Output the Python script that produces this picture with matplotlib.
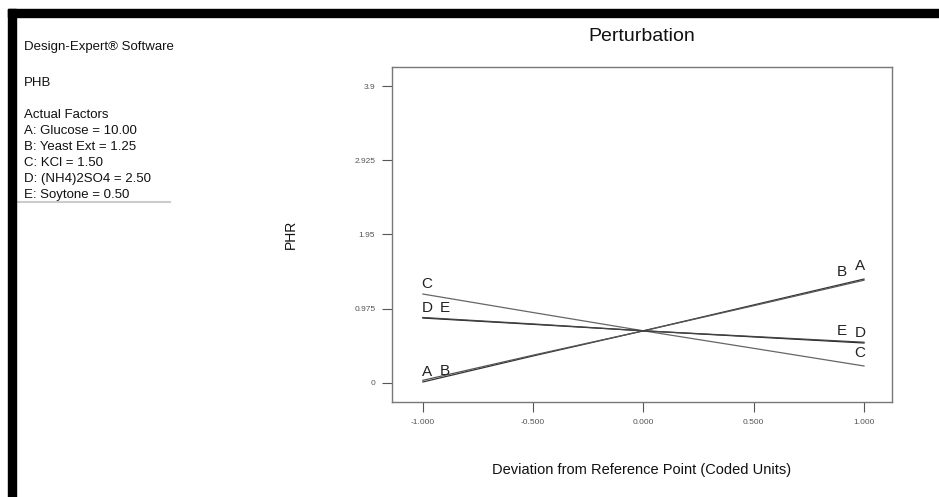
import matplotlib
matplotlib.use("Agg")
import matplotlib.pyplot as plt
from matplotlib.lines import Line2D
from matplotlib.patches import Rectangle

plt.rcParams['font.family'] = ['Liberation Sans', 'DejaVu Sans']

# coded deviation from reference point
deviation = [-1.0, -0.5, 0.0, 0.5, 1.0]

# PHR response for each factor
phr_a = [0.013, 0.355, 0.685, 1.025, 1.365]
phr_b = [0.035, 0.365, 0.685, 1.015, 1.350]
phr_c = [1.168, 0.925, 0.685, 0.455, 0.223]
phr_d = [0.853, 0.770, 0.685, 0.605, 0.525]
phr_e = [0.860, 0.775, 0.685, 0.610, 0.535]

factor_letters = ["A", "B", "C", "D", "E"]
line_colors = ["#333333", "#555555", "#666666", "#222222", "#444444"]

x_ticks = [-1.0, -0.5, 0.0, 0.5, 1.0]
y_ticks = [0, 0.975, 1.95, 2.925, 3.9]
y_tick_labels = ["0", "0.975", "1.95", "2.925", "3.9"]

info_lines = [
    "Design-Expert\u00ae Software",
    "PHB",
    "Actual Factors",
    "A: Glucose = 10.00",
    "B: Yeast Ext = 1.25",
    "C: KCl = 1.50",
    "D: (NH4)2SO4 = 2.50",
    "E: Soytone = 0.50",
]
info_rows = [47, 83, 115, 131, 147, 163, 179, 195]

fig = plt.figure(figsize=(9.39, 4.97), dpi=100)
W, H = 939, 497

# black frame along top and left edge
fig.add_artist(Rectangle((8 / W, 0), 8 / W, 1 - 9 / H, transform=fig.transFigure,
                         color="black", zorder=10))
fig.add_artist(Rectangle((8 / W, 1 - 17 / H), 1, 8 / H, transform=fig.transFigure,
                         color="black", zorder=10))

ax = fig.add_axes([392 / W, 1 - 402 / H, 500 / W, 335 / H])

series = [phr_a, phr_b, phr_c, phr_d, phr_e]
for vals, col in zip(series, line_colors):
    ax.plot(deviation, vals, color=col, lw=0.9)

# factor letters near both ends of each trace
left_shift = {"A": 0, "B": 13, "C": 0, "D": 0, "E": 13}
right_shift = {"A": 0, "B": -13, "C": 0, "D": 0, "E": -13}
right_lift = {"A": 4, "B": 1, "C": 4, "D": 2, "E": 3}
for letter, vals in zip(factor_letters, series):
    ax.annotate(letter, (deviation[0], vals[0]), xytext=(left_shift[letter] + 3, 2),
                textcoords="offset points", fontsize=11, ha="center", va="bottom",
                color="#222222")
    ax.annotate(letter, (deviation[-1], vals[-1]),
                xytext=(right_shift[letter] - 3, right_lift[letter]),
                textcoords="offset points", fontsize=11, ha="center", va="bottom",
                color="#222222")

ax.set_xlim(-1.14, 1.127)
ax.set_ylim(-0.25, 4.15)
ax.set_xticks(x_ticks)
ax.set_xticklabels(["%.3f" % v for v in x_ticks])
ax.set_yticks(y_ticks)
ax.set_yticklabels(y_tick_labels)
ax.tick_params(direction="out", length=7, width=0.8, color="#555555",
               labelsize=6, labelcolor="#555555", pad=5)
for side in ["top", "right", "bottom", "left"]:
    ax.spines[side].set_color("#777777")
    ax.spines[side].set_linewidth(1)

ax.set_title("Perturbation", fontsize=14, pad=19, color="#111111")
ax.set_xlabel("Deviation from Reference Point (Coded Units)", fontsize=10.5,
              labelpad=27, color="#111111")
ax.set_ylabel("PHR", fontsize=10, color="#111111")
ax.yaxis.set_label_coords(-0.188, 0.5)

for line, yy in zip(info_lines, info_rows):
    fig.text(24 / W, 1 - yy / H, line, fontsize=9.5, color="#111111", va="center")

# faint shadow under the factor box
fig.add_artist(Line2D([17 / W, 170 / W], [1 - 202 / H, 1 - 202 / H],
                      transform=fig.transFigure, color="#cccccc", lw=1.5))

fig.savefig("out.png", dpi=100)
